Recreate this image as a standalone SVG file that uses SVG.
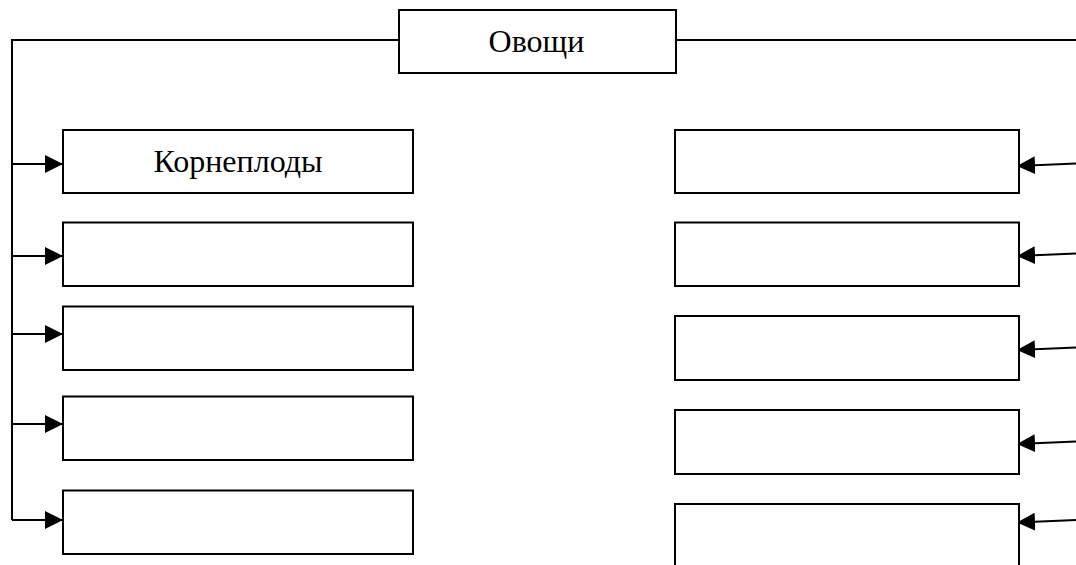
<svg xmlns="http://www.w3.org/2000/svg" width="1076" height="565" viewBox="0 0 1076 565">
<style>
.box{fill:#fff;stroke:#000;stroke-width:2}
.ln{fill:none;stroke:#000;stroke-width:2}
.arr{fill:none;stroke:#000;stroke-width:2;marker-end:url(#ah)}
.t{font-family:"Liberation Serif","Times New Roman",serif;font-size:32px;fill:#000;text-anchor:middle}
</style>
<defs>
<marker id="ah" markerUnits="userSpaceOnUse" markerWidth="18" markerHeight="18" viewBox="0 0 18 18" refX="18" refY="9" orient="auto">
<path d="M0,0 L18,9 L0,18 Z" fill="#000"/>
</marker>
</defs>
<rect width="1076" height="565" fill="#fff"/>
<g id="connectors">
<path class="ln" d="M399,40 H12 V520"/>
<path class="ln" d="M676,40 H1076"/>
<line class="arr" x1="12" y1="164" x2="63" y2="164"/>
<line class="arr" x1="12" y1="256" x2="63" y2="256"/>
<line class="arr" x1="12" y1="334" x2="63" y2="334"/>
<line class="arr" x1="12" y1="424" x2="63" y2="424"/>
<line class="arr" x1="12" y1="520" x2="63" y2="520"/>
<line class="arr" x1="1076" y1="163.5" x2="1017" y2="166"/>
<line class="arr" x1="1076" y1="253.5" x2="1017" y2="256"/>
<line class="arr" x1="1076" y1="347.5" x2="1017" y2="350"/>
<line class="arr" x1="1076" y1="441.5" x2="1017" y2="444"/>
<line class="arr" x1="1076" y1="520" x2="1017" y2="522.5"/>
</g>
<g id="root"><rect class="box" x="399" y="10" width="277" height="63"/><text class="t" x="536.5" y="52">Овощи</text></g>
<g id="l1"><rect class="box" x="63" y="130" width="350" height="63"/><text class="t" x="238" y="172">Корнеплоды</text></g>
<g id="l2"><rect class="box" x="63" y="222.5" width="350" height="63.5"/></g>
<g id="l3"><rect class="box" x="63" y="306.5" width="350" height="63.5"/></g>
<g id="l4"><rect class="box" x="63" y="396.5" width="350" height="63.5"/></g>
<g id="l5"><rect class="box" x="63" y="490.5" width="350" height="63.5"/></g>
<g id="r1"><rect class="box" x="675" y="130" width="344" height="63"/></g>
<g id="r2"><rect class="box" x="675" y="222.5" width="344" height="63.5"/></g>
<g id="r3"><rect class="box" x="675" y="316" width="344" height="64"/></g>
<g id="r4"><rect class="box" x="675" y="410" width="344" height="64"/></g>
<g id="r5"><rect class="box" x="675" y="504" width="344" height="70"/></g>
</svg>
